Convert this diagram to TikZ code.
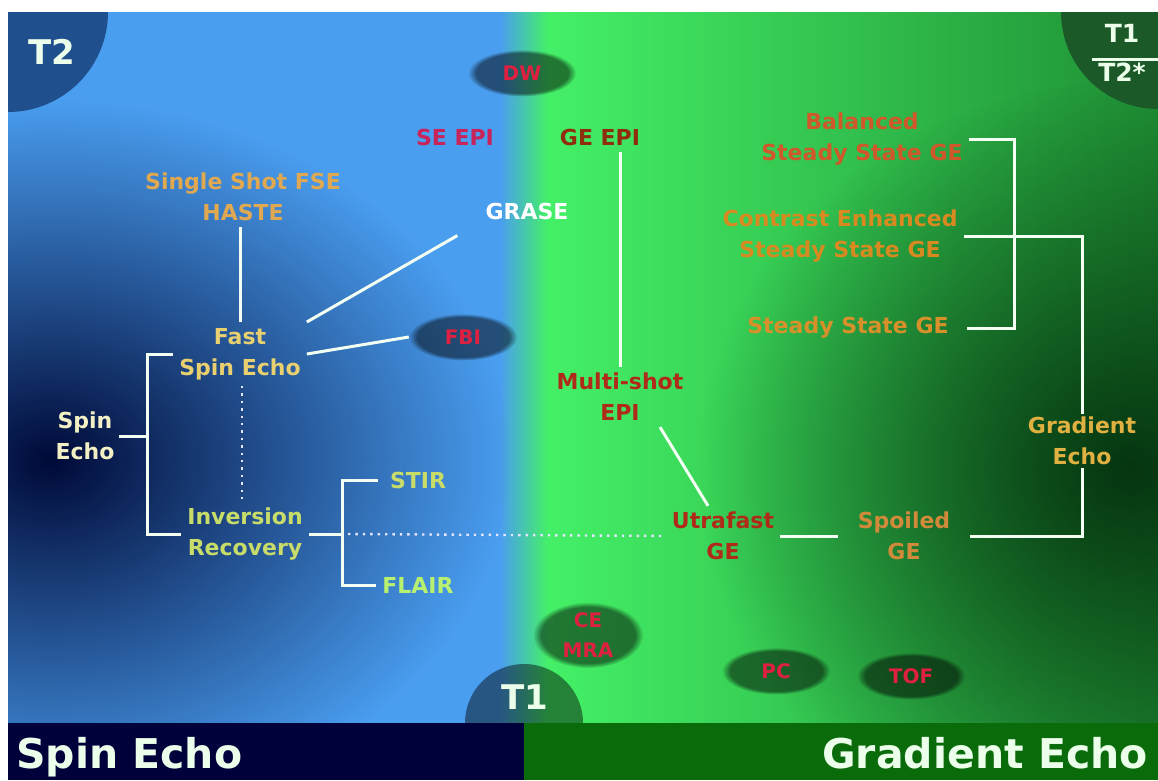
\documentclass[tikz,border=0pt]{standalone}
\usepackage{fontspec}
\setmainfont{DejaVu Sans}
\usetikzlibrary{calc,fadings,shapes.geometric}

\tikzfading[name=spotfade, inner color=transparent!0, outer color=transparent!100]

\definecolor{seblue}{HTML}{4A9EF0}
\definecolor{senavy}{HTML}{000A38}
\definecolor{gegreen}{HTML}{44F067}
\definecolor{gemid}{HTML}{1F8F34}
\definecolor{gedark}{HTML}{063510}
\definecolor{t2blue}{HTML}{1F4F8C}
\definecolor{t1green}{HTML}{1B5A28}
\definecolor{gebar}{HTML}{0A6B0A}
\definecolor{sebar}{HTML}{00003A}
\definecolor{sepink}{HTML}{C8245A}
\definecolor{gebrown}{HTML}{8E2E0E}
\definecolor{hastecol}{HTML}{E0A850}
\definecolor{fsecol}{HTML}{E8D070}
\definecolor{creamcol}{HTML}{F2F0C4}
\definecolor{ircol}{HTML}{C8DC6A}
\definecolor{flaircol}{HTML}{B8F070}
\definecolor{epired}{HTML}{B02A1A}
\definecolor{spoilcol}{HTML}{D08A3A}
\definecolor{goldcol}{HTML}{E0B040}
\definecolor{balcol}{HTML}{D0582A}
\definecolor{cecol}{HTML}{D88A20}
\definecolor{sscol}{HTML}{D8902A}
\definecolor{blobred}{HTML}{E02040}

\begin{document}
\begin{tikzpicture}[x=1pt,y=-1pt,
    every node/.style={font=\bfseries\fontsize{22}{31}\selectfont, align=center, inner sep=6pt},
    big/.style={font=\bfseries\fontsize{#1}{#1}\selectfont, text=white!92!green, inner sep=2pt},
    link/.style={draw=white!95!green, line width=3pt},
    dots/.style={draw=white!90!blue, line width=2.4pt, dash pattern=on 2.4pt off 5pt},
    blob/.style={ellipse, fill=black, fill opacity=0.5, text opacity=1, text=blobred,
      path fading=circle with fuzzy edge 15 percent, minimum width=108pt, minimum height=47pt,
      inner sep=0pt, font=\bfseries\fontsize{20}{30}\selectfont},
  ]
  \useasboundingbox (0,0) rectangle (1158,780);
  % backdrop
  \fill[white] (0,0) rectangle (1158,780);
  \begin{scope}
    \clip (8,12) rectangle (1158,723);
    \fill[seblue] (8,12) rectangle (500,723);
    \shade[left color=seblue, right color=gegreen] (500,12) rectangle (548,723);
    \shade[left color=gegreen, right color=gemid] (548,12) rectangle (1158,723);
    \begin{scope}
      \clip (8,12) rectangle (515,723);
      \fill[senavy, path fading=spotfade] (50,460) ellipse (460 and 360);
    \end{scope}
    \fill[gedark, path fading=spotfade] (1130,470) ellipse (430 and 390);
    \fill[t2blue] (8,12) circle (100);
    \fill[t1green] (1158,12) circle (97);
    \fill[black, fill opacity=0.45] (524,723) circle (59);
  \end{scope}
  \fill[sebar] (8,723) rectangle (524,780);
  \fill[gebar] (524,723) rectangle (1158,780);

  % corner labels
  \node[big=34] (t2) at (52,52) {T2};
  \node[big=34] (t1) at (525,697) {T1};
  \node[big=25] (t1top) at (1122,33) {T1};
  \node[big=25] (t2star) at (1122,72) {T2*};
  \begin{scope}
    \clip (8,12) rectangle (1158,723);
    \draw[draw=white!92!green, line width=2.5pt] ([xshift=-4pt,yshift=1pt]t2star.north west) -- ([xshift=12pt,yshift=1pt]t2star.north east);
  \end{scope}
  \node[big=41, anchor=base west, inner sep=0pt] (selabel) at (16,768) {Spin Echo};
  \node[big=41, anchor=base east, inner sep=0pt] (gelabel) at (1148,768) {Gradient Echo};

  % sequences
  \node[text=sepink] (seepi) at (455,137) {SE EPI};
  \node[text=gebrown] (geepi) at (600,137) {GE EPI};
  \node[text=hastecol] (haste) at (243,197) {Single Shot FSE\\HASTE};
  \node[text=white] (grase) at (527,211) {GRASE};
  \node[text=fsecol] (fse) at (240,354) {Fast\\Spin Echo};
  \node[text=creamcol, inner sep=4pt] (spin) at (85,436) {Spin\\Echo};
  \node[text=ircol] (ir) at (245,534) {Inversion\\Recovery};
  \node[text=ircol, inner sep=12pt] (stir) at (418,480) {STIR};
  \node[text=flaircol] (flair) at (418,585) {FLAIR};
  \node[text=epired] (msepi) at (620,397) {Multi-shot\\EPI};
  \node[text=epired] (uge) at (723,536) {Utrafast\\GE};
  \node[text=spoilcol, inner xsep=20pt] (sge) at (904,536) {Spoiled\\GE};
  \node[text=goldcol, inner sep=3pt] (gre) at (1082,441) {Gradient\\Echo};
  \node[text=balcol] (bssge) at (862,139) {Balanced\\Steady State GE};
  \node[text=cecol] (cssge) at (840,236) {Contrast Enhanced\\Steady State GE};
  \node[text=sscol, inner xsep=18pt] (ssge) at (848,328) {Steady State GE};

  % blobs
  \node[blob] (dw) at (522,73) {DW};
  \node[blob] (fbi) at (463,337) {FBI};
  \node[blob, minimum width=110pt, minimum height=66pt] (cemra) at (588,635) {CE\\MRA};
  \node[blob] (pc) at (776,671) {PC};
  \node[blob] (tof) at (911,676) {TOF};

  % brackets and links
  \coordinate (seb) at (147,436);
  \coordinate (irb) at (342,534);
  \coordinate (ssb) at (1014,236);
  \draw[link] (spin.east) -- (seb);
  \draw[link] (fse.west) -| (seb) |- (ir.west);
  \draw[link] (ir.east) -- (irb);
  \draw[link] (stir.west) -| (irb) |- (flair.west);
  \draw[link] (fse.north) -- (fse.north |- haste.south);
  \draw[link] (fse.north east) -- ([xshift=-22pt,yshift=-10pt]grase.south west);
  \draw[link] (fse.east) -- (fbi.west);
  \draw[link] (msepi.north) -- (msepi.north |- geepi.south);
  \draw[link] ([xshift=40pt]msepi.south) -- ([xshift=-15pt]uge.north);
  \draw[link] (uge.east) -- (sge.west);
  \draw[link] (sge.east) -| (gre.south);
  \draw[link] (gre.north) |- (cssge.east);
  \draw[link] (bssge.east) -| (ssb) |- (ssge.east);
  \draw[dots] ([xshift=2pt]fse.south) -- ([xshift=2pt]fse.south |- ir.north);
  \draw[dots] ([xshift=6pt]irb) -- (uge.west);
\end{tikzpicture}
\end{document}
